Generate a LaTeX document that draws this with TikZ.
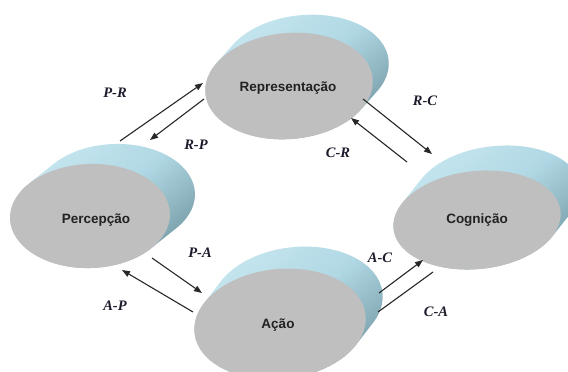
\documentclass[tikz,border=0pt]{standalone}
\usepackage{fontspec}
\setmainfont{Liberation Serif}
\setsansfont{Liberation Sans}
\usetikzlibrary{arrows.meta}

\definecolor{facegray}{RGB}{191,191,191}
\definecolor{rimlight}{RGB}{198,230,239}
\definecolor{rimmid}{RGB}{176,216,228}
\definecolor{rimdark}{RGB}{118,156,166}
\definecolor{inkline}{RGB}{40,40,40}
\definecolor{labelink}{RGB}{28,28,45}
\definecolor{discink}{RGB}{34,34,34}

% extruded disc: #1 x, #2 y, #3 x radius, #4 y radius, #5 tilt, #6 dx, #7 dy
% the rim is one path made of the swept ellipses, shaded once
\newcommand\drawdisc[7]{%
  \shade[shading=axis, top color=rimlight, bottom color=rimdark,
         middle color=rimmid, shading angle=40]
    foreach \k in {0,...,24}{
      ({#1+\k*(#6)/24},{#2+\k*(#7)/24}) ellipse [x radius=#3, y radius=#4, rotate=#5]
    };
  \fill[facegray] (#1,#2) ellipse [x radius=#3, y radius=#4, rotate=#5];
}

\tikzset{
  disctext/.style={font=\sffamily\bfseries\fontsize{13.5}{15}\selectfont, text=discink, inner sep=0pt},
  linklabel/.style={font=\rmfamily\bfseries\itshape\fontsize{14.5}{16}\selectfont, text=labelink, inner sep=0pt},
  conn/.style={draw=inkline, line width=1.1pt, -{Triangle[length=8pt,width=6pt]}},
  plainconn/.style={draw=inkline, line width=1.1pt}
}

\begin{document}
\begin{tikzpicture}[x=1pt, y=-1pt]
  \useasboundingbox (0,0) rectangle (568,372);
  \fill[white] (0,0) rectangle (568,372);

  % the four discs
  \drawdisc{289}{86}{84}{53}{5}{16}{-18}
  \drawdisc{90}{216}{80}{52}{2}{25}{-20}
  \drawdisc{477}{220}{84}{49}{6}{20}{-25}
  \drawdisc{280}{324}{86}{55}{6}{17}{-22}

  \node[disctext] (rep) at (288,88)  {Representação};
  \node[disctext] (per) at (96,220)  {Percepção};
  \node[disctext] (cog) at (477,220) {Cognição};
  \node[disctext] (aca) at (278,325) {Ação};

  % connector end points
  \coordinate (prA) at (120,141); \coordinate (prB) at (203,83);
  \coordinate (rpA) at (204,99);  \coordinate (rpB) at (150,140);
  \coordinate (rcA) at (363,99);  \coordinate (rcB) at (432,154);
  \coordinate (crA) at (407,162); \coordinate (crB) at (351,118);
  \coordinate (paA) at (152,258); \coordinate (paB) at (202,293);
  \coordinate (apA) at (193,312); \coordinate (apB) at (122,270);
  \coordinate (acA) at (379,293); \coordinate (acB) at (423,260);
  \coordinate (caA) at (433,272); \coordinate (caB) at (378,312);

  \draw[conn] (prA) -- (prB);
  \draw[conn] (rpA) -- (rpB);
  \draw[conn] (rcA) -- (rcB);
  \draw[conn] (crA) -- (crB);
  \draw[conn] (paA) -- (paB);
  \draw[conn] (apA) -- (apB);
  \draw[conn] (acA) -- (acB);
  \draw[plainconn] (caA) -- (caB);

  % link labels
  \node[linklabel] (lpr) at (115,93)  {P-R};
  \node[linklabel] (lrp) at (196,145) {R-P};
  \node[linklabel] (lrc) at (425,101) {R-C};
  \node[linklabel] (lcr) at (338,153) {C-R};
  \node[linklabel] (lpa) at (200,253) {P-A};
  \node[linklabel] (lap) at (115,306) {A-P};
  \node[linklabel] (lac) at (380,258) {A-C};
  \node[linklabel] (lca) at (436,312) {C-A};
\end{tikzpicture}
\end{document}
